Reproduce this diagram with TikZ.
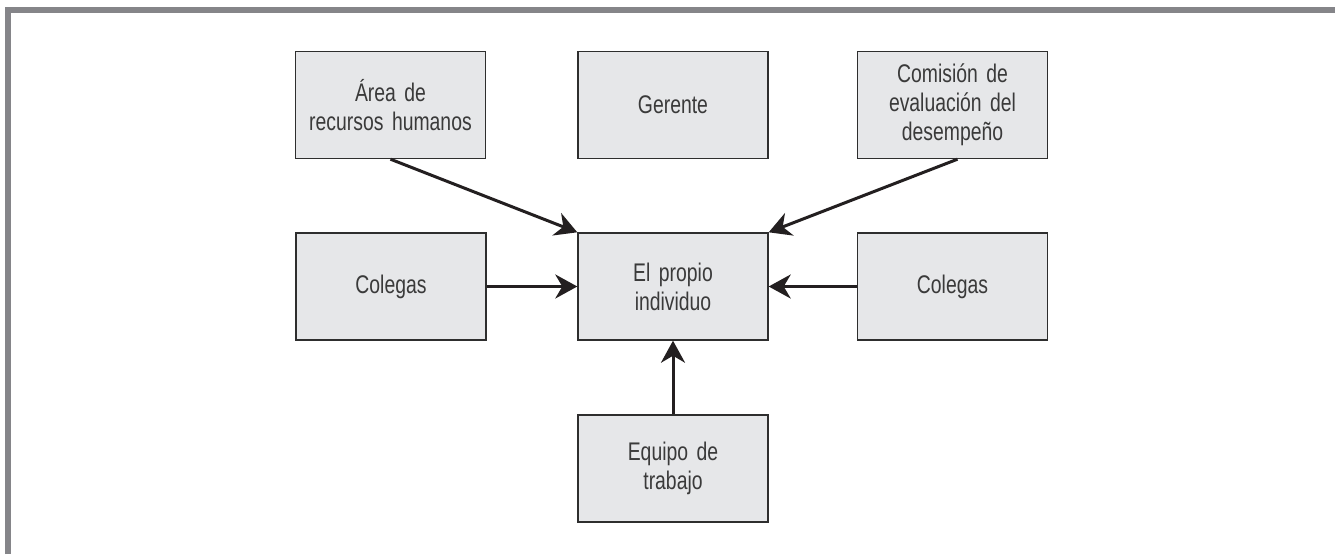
\documentclass[tikz,border=0pt]{standalone}
\usepackage{fontspec}
\setmainfont{Liberation Sans}[FakeStretch=0.76]
\usetikzlibrary{arrows.meta}
\definecolor{framegray}{HTML}{858589}
\definecolor{boxfill}{HTML}{E6E7E9}
\definecolor{boxline}{HTML}{2E2E2E}
\definecolor{txtcol}{HTML}{3A3A3A}
\definecolor{arrcol}{HTML}{231F20}
\tikzset{
  box/.style={draw=boxline, line width=1.4pt, fill=boxfill, minimum width=190pt, minimum height=107pt,
    inner sep=0pt, align=center, text width=185pt, text=txtcol,
    font=\fontsize{25.5pt}{29pt}\selectfont},
  conn/.style={draw=arrcol, line width=3pt, -{Stealth[length=22pt, width=24pt, inset=7pt]}}
}
\begin{document}
\begin{tikzpicture}[x=1pt, y=-1pt]
\useasboundingbox (0,0) rectangle (1335,554);
\fill[white] (0,0) rectangle (1335,554);
\draw[framegray, line width=6pt] (8,554) -- (8,9.5) -- (1335,9.5);
\node[box] (rh) at (390.5,105) {Área de\\recursos humanos};
\node[box] (ger) at (673,105) {Gerente};
\node[box] (com) at (952.5,105) {Comisión de\\evaluación del\\desempeño};
\node[box] (colL) at (391,286.5) {Colegas};
\node[box] (ind) at (673,286.5) {El propio\\individuo};
\node[box] (colR) at (952.5,286.5) {Colegas};
\node[box] (eq) at (673,468.5) {Equipo de\\trabajo};
\draw[conn] (rh.south) -- (ind.north west);
\draw[conn] ([xshift=5pt]com.south) -- (ind.north east);
\draw[conn] (colL.east) -- (ind.west);
\draw[conn] (colR.west) -- (ind.east);
\draw[conn] (eq.north) -- (ind.south);
\end{tikzpicture}
\end{document}
